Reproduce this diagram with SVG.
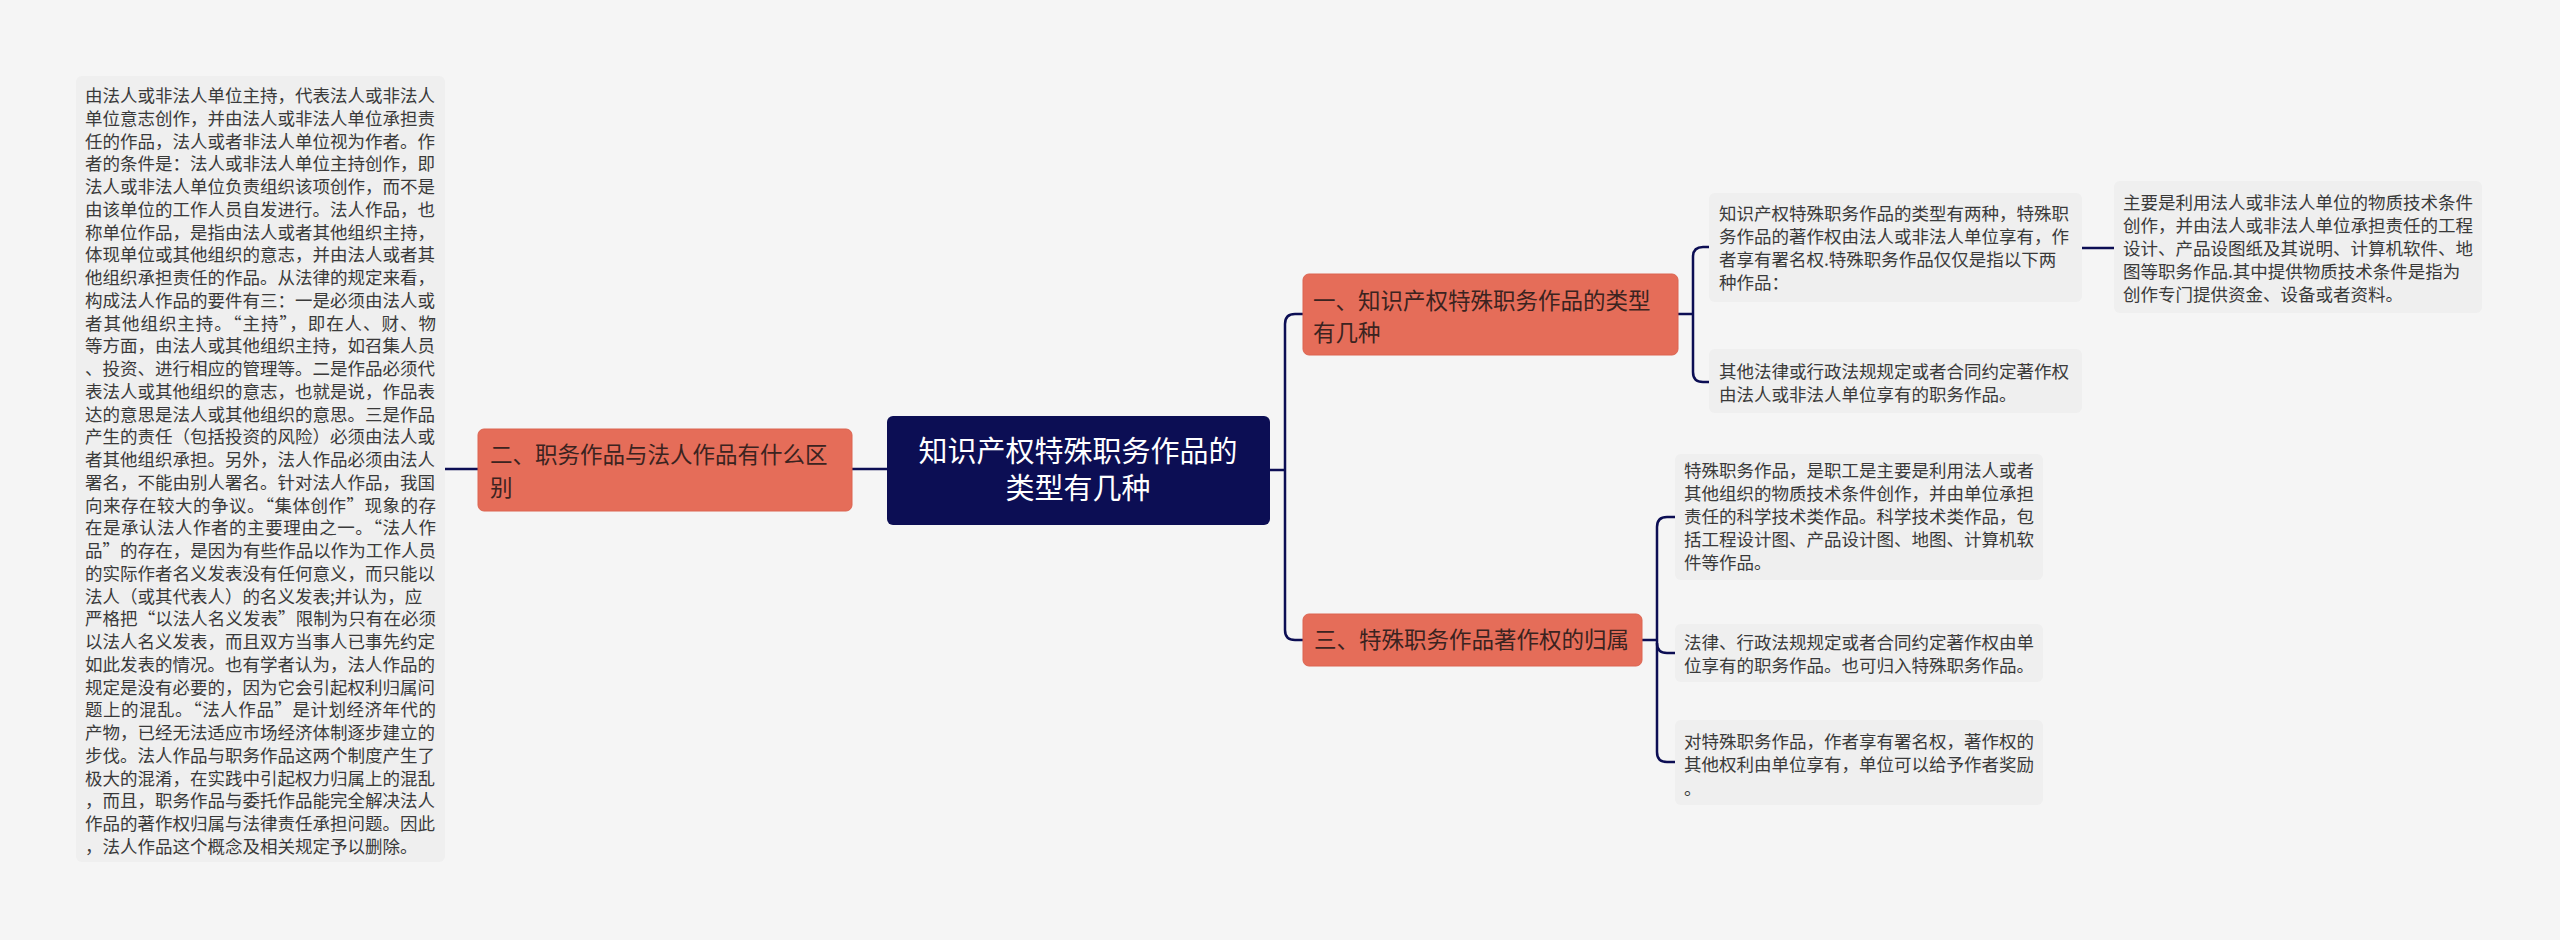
<svg xmlns="http://www.w3.org/2000/svg" width="2560" height="940" viewBox="0 0 2560 940">
<style>
.bg{fill:#f5f5f5}
.box{fill:#efefef}
.org{fill:#e56d59;stroke:#dc6450;stroke-width:1}
.ctr{fill:#0c0e54}
.t{font-family:"Noto Sans CJK SC","Liberation Sans",sans-serif;font-size:17.5px;fill:#3a3a3a}
.ot{font-family:"Noto Sans CJK SC","Liberation Sans",sans-serif;font-size:22.5px;fill:#3b2320}
.ct{font-family:"Noto Sans CJK SC","Liberation Sans",sans-serif;font-size:29px;fill:#ffffff;text-anchor:middle}
.ln{fill:none;stroke:#0c0e54;stroke-width:2.5}
</style>
<rect class="bg" x="0" y="0" width="2560" height="940"/>
<g id="connectors">
<path class="ln" d="M445,469 H478"/>
<path class="ln" d="M852,469 H887"/>
<path class="ln" d="M1270,470 H1285"/>
<path class="ln" d="M1303,314 H1295 Q1285,314 1285,324 V630 Q1285,640 1295,640 H1303"/>
<path class="ln" d="M1678,314 H1693"/>
<path class="ln" d="M1709,247 H1703 Q1693,247 1693,257 V372 Q1693,382 1703,382 H1709"/>
<path class="ln" d="M2082,248 H2114"/>
<path class="ln" d="M1642,640 H1657"/>
<path class="ln" d="M1675,517 H1667 Q1657,517 1657,527 V752 Q1657,762 1667,762 H1675"/>
<path class="ln" d="M1657,643 Q1657,653 1667,653 H1675"/>
</g>
<g id="center">
<rect class="ctr" x="887" y="416" width="383" height="109" rx="6"/>
<text class="ct"><tspan x="1078" y="462">知识产权特殊职务作品的</tspan><tspan x="1078" y="499">类型有几种</tspan></text>
</g>
<g id="node-left">
<rect class="org" x="478" y="429" width="374" height="82" rx="6"/>
<text class="ot" x="490" y="463">二、职务作品与法人作品有什么区</text>
<text class="ot" x="490" y="496">别</text>
</g>
<g id="leaf-left">
<rect class="box" x="76" y="76" width="369" height="786" rx="6"/>
<text class="t" x="85" y="102">由法人或非法人单位主持，代表法人或非法人</text>
<text class="t" x="85" y="124.75">单位意志创作，并由法人或非法人单位承担责</text>
<text class="t" x="85" y="147.5">任的作品，法人或者非法人单位视为作者。作</text>
<text class="t" x="85" y="170.25">者的条件是：法人或非法人单位主持创作，即</text>
<text class="t" x="85" y="193">法人或非法人单位负责组织该项创作，而不是</text>
<text class="t" x="85" y="215.75">由该单位的工作人员自发进行。法人作品，也</text>
<text class="t" x="85" y="238.5">称单位作品，是指由法人或者其他组织主持，</text>
<text class="t" x="85" y="261.25">体现单位或其他组织的意志，并由法人或者其</text>
<text class="t" x="85" y="284">他组织承担责任的作品。从法律的规定来看，</text>
<text class="t" x="85" y="306.75">构成法人作品的要件有三：一是必须由法人或</text>
<text class="t" x="85" y="329.5" textLength="351" lengthAdjust="spacing">者其他组织主持。“主持”，即在人、财、物</text>
<text class="t" x="85" y="352.25">等方面，由法人或其他组织主持，如召集人员</text>
<text class="t" x="85" y="375">、投资、进行相应的管理等。二是作品必须代</text>
<text class="t" x="85" y="397.75">表法人或其他组织的意志，也就是说，作品表</text>
<text class="t" x="85" y="420.5">达的意思是法人或其他组织的意思。三是作品</text>
<text class="t" x="85" y="443.25">产生的责任（包括投资的风险）必须由法人或</text>
<text class="t" x="85" y="466">者其他组织承担。另外，法人作品必须由法人</text>
<text class="t" x="85" y="488.75">署名，不能由别人署名。针对法人作品，我国</text>
<text class="t" x="85" y="511.5" textLength="351" lengthAdjust="spacing">向来存在较大的争议。“集体创作”现象的存</text>
<text class="t" x="85" y="534.25" textLength="351" lengthAdjust="spacing">在是承认法人作者的主要理由之一。“法人作</text>
<text class="t" x="85" y="557" textLength="351" lengthAdjust="spacing">品”的存在，是因为有些作品以作为工作人员</text>
<text class="t" x="85" y="579.75">的实际作者名义发表没有任何意义，而只能以</text>
<text class="t" x="85" y="602.5">法人（或其代表人）的名义发表;并认为，应</text>
<text class="t" x="85" y="625.25" textLength="351" lengthAdjust="spacing">严格把“以法人名义发表”限制为只有在必须</text>
<text class="t" x="85" y="648">以法人名义发表，而且双方当事人已事先约定</text>
<text class="t" x="85" y="670.75">如此发表的情况。也有学者认为，法人作品的</text>
<text class="t" x="85" y="693.5">规定是没有必要的，因为它会引起权利归属问</text>
<text class="t" x="85" y="716.25" textLength="351" lengthAdjust="spacing">题上的混乱。“法人作品”是计划经济年代的</text>
<text class="t" x="85" y="739">产物，已经无法适应市场经济体制逐步建立的</text>
<text class="t" x="85" y="761.75">步伐。法人作品与职务作品这两个制度产生了</text>
<text class="t" x="85" y="784.5">极大的混淆，在实践中引起权力归属上的混乱</text>
<text class="t" x="85" y="807.25">，而且，职务作品与委托作品能完全解决法人</text>
<text class="t" x="85" y="830">作品的著作权归属与法律责任承担问题。因此</text>
<text class="t" x="85" y="852.75">，法人作品这个概念及相关规定予以删除。</text>
</g>
<g id="node-1">
<rect class="org" x="1303" y="274" width="375" height="81" rx="6"/>
<text class="ot" x="1313" y="309">一、知识产权特殊职务作品的类型</text>
<text class="ot" x="1313" y="341">有几种</text>
</g>
<g id="leaf-1a">
<rect class="box" x="1709" y="193" width="373" height="109" rx="6"/>
<text class="t" x="1719" y="220">知识产权特殊职务作品的类型有两种，特殊职</text>
<text class="t" x="1719" y="243">务作品的著作权由法人或非法人单位享有，作</text>
<text class="t" x="1719" y="266">者享有署名权.特殊职务作品仅仅是指以下两</text>
<text class="t" x="1719" y="289">种作品：</text>
</g>
<g id="leaf-1a-1">
<rect class="box" x="2114" y="181" width="368" height="132" rx="6"/>
<text class="t" x="2123" y="209">主要是利用法人或非法人单位的物质技术条件</text>
<text class="t" x="2123" y="232">创作，并由法人或非法人单位承担责任的工程</text>
<text class="t" x="2123" y="255">设计、产品设图纸及其说明、计算机软件、地</text>
<text class="t" x="2123" y="278">图等职务作品.其中提供物质技术条件是指为</text>
<text class="t" x="2123" y="301">创作专门提供资金、设备或者资料。</text>
</g>
<g id="leaf-1b">
<rect class="box" x="1709" y="349" width="373" height="64" rx="6"/>
<text class="t" x="1719" y="378">其他法律或行政法规规定或者合同约定著作权</text>
<text class="t" x="1719" y="401">由法人或非法人单位享有的职务作品。</text>
</g>
<g id="node-3">
<rect class="org" x="1303" y="614" width="339" height="52" rx="6"/>
<text class="ot" x="1314" y="648">三、特殊职务作品著作权的归属</text>
</g>
<g id="leaf-3a">
<rect class="box" x="1675" y="454" width="368" height="126" rx="6"/>
<text class="t" x="1684" y="477">特殊职务作品，是职工是主要是利用法人或者</text>
<text class="t" x="1684" y="500">其他组织的物质技术条件创作，并由单位承担</text>
<text class="t" x="1684" y="523">责任的科学技术类作品。科学技术类作品，包</text>
<text class="t" x="1684" y="546">括工程设计图、产品设计图、地图、计算机软</text>
<text class="t" x="1684" y="569">件等作品。</text>
</g>
<g id="leaf-3b">
<rect class="box" x="1675" y="624" width="368" height="58" rx="6"/>
<text class="t" x="1684" y="649">法律、行政法规规定或者合同约定著作权由单</text>
<text class="t" x="1684" y="672">位享有的职务作品。也可归入特殊职务作品。</text>
</g>
<g id="leaf-3c">
<rect class="box" x="1675" y="720" width="368" height="85" rx="6"/>
<text class="t" x="1684" y="748">对特殊职务作品，作者享有署名权，著作权的</text>
<text class="t" x="1684" y="771">其他权利由单位享有，单位可以给予作者奖励</text>
<text class="t" x="1684" y="795">。</text>
</g>
</svg>
